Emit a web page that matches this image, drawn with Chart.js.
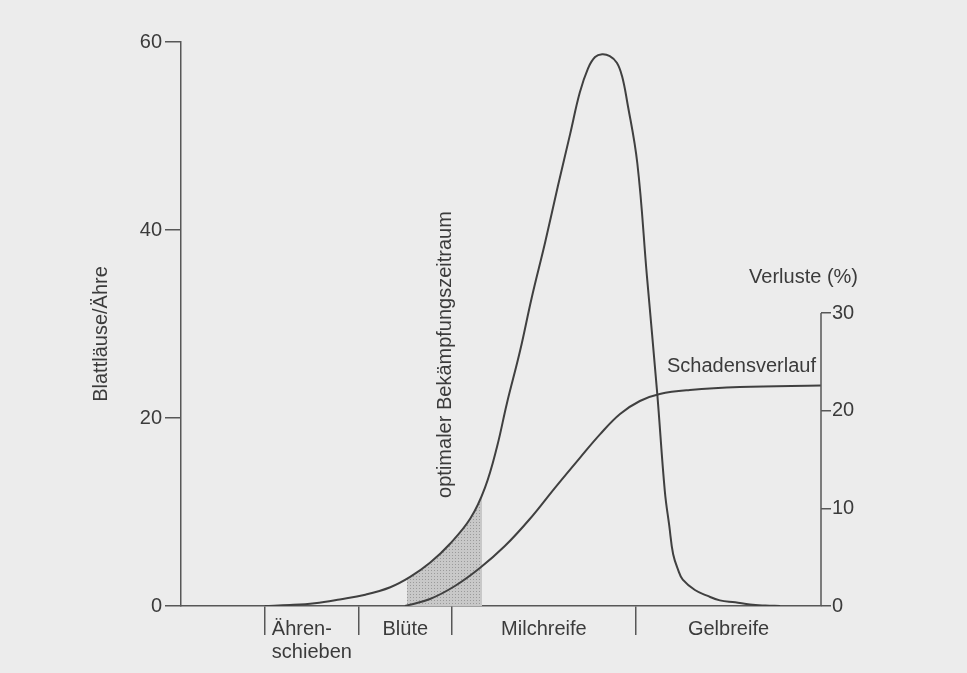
<!DOCTYPE html>
<html>
<head>
<meta charset="utf-8">
<script src="https://cdn.jsdelivr.net/npm/chart.js@4.4.1/dist/chart.umd.min.js"></script>
<style>
  html, body { margin: 0; padding: 0; background: #ececec; }
  canvas { display: block; }
</style>
</head>
<body>
<canvas id="c" width="967" height="673"></canvas>
<script>
// ---- data (time axis: 0..100 = relative season progress) ----
const aphidT     = [13.1, 17.0, 20.9, 24.8, 28.8, 32.7, 35.8, 38.9, 42.0, 45.2, 47.5, 49.4, 50.9, 53.0, 54.8, 56.9, 58.9, 60.8, 62.3, 63.6, 64.7, 65.8, 67.0, 68.1, 68.9, 69.7, 71.3, 72.8, 74.4, 75.6, 76.3, 76.9, 77.7, 78.4, 80.3, 82.2, 84.2, 86.6, 88.9, 91.3, 93.6];
const aphidCount = [0,    0.1,  0.3,  0.7,  1.2,  2.0,  3.1,  4.6,  6.6,  9.3,  12.6, 17.0, 21.5, 27.2, 32.8, 38.7, 44.7, 50.2, 54.6, 57.2, 58.4, 58.7, 58.5, 57.8, 56.4, 53.7, 47.1, 35.1, 22.7, 12.2, 8.5,  5.5,  3.8,  2.8,  1.7,  1.1,  0.6,  0.4,  0.16, 0.05, 0];

const lossT   = [35.0, 38.9, 42.8, 46.7, 50.6, 54.5, 58.4, 62.3, 65.5, 68.6, 71.7, 74.8, 79.5, 87.3, 100];
const lossPct = [0,    0.72, 2.05, 3.89, 6.14, 8.91, 12.08, 15.15, 17.6, 19.66, 20.99, 21.71, 22.12, 22.42, 22.58];

const stageNames = [["Ähren-", "schieben"], ["Blüte"], ["Milchreife"], ["Gelbreife"]];
const stageStart = [13.1, 27.8, 42.3, 71.1];
const seasonEnd  = 100;

const controlWindow = [35.3, 47.0];   // optimaler Bekämpfungszeitraum

const leftTicks  = [0, 20, 40, 60];
const rightTicks = [0, 10, 20, 30];

const yTitle      = "Blattläuse/Ähre";
const y2Title     = "Verluste (%)";
const lossLabel   = "Schadensverlauf";
const windowLabel = "optimaler Bekämpfungszeitraum";

// ---- styles ----
const FONT = "'Liberation Sans', Arial, Helvetica, sans-serif";
const FSIZE = 20;
const TEXT = "#3b3b3b";
const LINE = "#404040";
const AXIS = "#575757";

let patternCache = null;
function shadePattern(chart) {
  const xs = chart.scales.x;
  if (!xs || !chart.chartArea) return 'rgba(0,0,0,0)';
  const x0 = Math.round(xs.getPixelForValue(controlWindow[0]));
  const x1 = Math.round(xs.getPixelForValue(controlWindow[1]));
  const key = x0 + '_' + x1;
  if (patternCache && patternCache.key === key) return patternCache.pat;
  const cv = document.createElement('canvas');
  cv.width = chart.width; cv.height = chart.height;
  const c = cv.getContext('2d');
  c.fillStyle = '#c8c8c8';
  c.fillRect(x0, 0, x1 - x0, cv.height);
  c.fillStyle = '#9a9a9a';
  for (let x = x0; x < x1; x += 3) {
    for (let y = 0; y < cv.height; y += 3) c.fillRect(x, y, 1, 1);
  }
  const pat = chart.ctx.createPattern(cv, 'no-repeat');
  patternCache = { key, pat };
  return pat;
}

const annotate = {
  id: 'annotate',
  afterDraw(chart) {
    const { ctx, chartArea: a, scales } = chart;
    const xs = scales.x, ys = scales.y, y2 = scales.y2;
    ctx.save();

    // right axis line (0..30 %)
    ctx.strokeStyle = AXIS; ctx.lineWidth = 1.5;
    ctx.beginPath();
    ctx.moveTo(a.right, y2.getPixelForValue(0));
    ctx.lineTo(a.right, y2.getPixelForValue(rightTicks[rightTicks.length - 1]));
    ctx.stroke();

    ctx.fillStyle = TEXT;
    ctx.font = `${FSIZE}px ${FONT}`;

    // stage labels under the x axis
    ctx.textBaseline = 'alphabetic';
    stageNames.forEach((lines, i) => {
      const s = xs.getPixelForValue(stageStart[i]);
      const e = xs.getPixelForValue(i + 1 < stageStart.length ? stageStart[i + 1] : seasonEnd);
      const cx = (s + e) / 2;
      const bw = Math.max(...lines.map(l => ctx.measureText(l).width));
      ctx.textAlign = 'left';
      lines.forEach((l, j) => {
        const lx = lines.length > 1 ? cx - bw / 2 : cx - ctx.measureText(l).width / 2;
        ctx.fillText(l, lx, a.bottom + 29 + j * 23);
      });
    });

    // left axis title
    ctx.save();
    ctx.translate(101, (a.top + a.bottom) / 2 + 10);
    ctx.rotate(-Math.PI / 2);
    ctx.textAlign = 'center'; ctx.textBaseline = 'middle';
    ctx.fillText(yTitle, 0, 0);
    ctx.restore();

    // control window label (vertical)
    ctx.save();
    ctx.translate(xs.getPixelForValue((controlWindow[0] + controlWindow[1]) / 2) + 1, ys.getPixelForValue(11.5));
    ctx.rotate(-Math.PI / 2);
    ctx.textAlign = 'left'; ctx.textBaseline = 'middle';
    ctx.fillText(windowLabel, 0, 0);
    ctx.restore();

    // right axis title
    ctx.textAlign = 'right'; ctx.textBaseline = 'middle';
    ctx.fillText(y2Title, a.right + 37, y2.getPixelForValue(rightTicks[rightTicks.length - 1]) - 36);

    // loss curve label
    ctx.fillText(lossLabel, a.right - 5, y2.getPixelForValue(lossPct[lossPct.length - 1]) - 19);

    ctx.restore();
  }
};

new Chart(document.getElementById('c'), {
  type: 'line',
  data: {
    datasets: [
      {
        label: 'Blattläuse/Ähre',
        data: aphidT.map((t, i) => ({ x: t, y: aphidCount[i] })),
        yAxisID: 'y',
        order: 1,
        borderColor: LINE,
        borderWidth: 2,
        pointRadius: 0,
        tension: 0.4,
        fill: 'origin',
        backgroundColor: (c) => shadePattern(c.chart)
      },
      {
        label: 'Schadensverlauf',
        data: lossT.map((t, i) => ({ x: t, y: lossPct[i] })),
        yAxisID: 'y2',
        order: 0,
        borderColor: LINE,
        borderWidth: 2,
        pointRadius: 0,
        tension: 0.4,
        fill: false
      }
    ]
  },
  options: {
    responsive: false,
    animation: false,
    events: [],
    layout: { padding: { left: 0, right: 0, top: 42, bottom: 0 } },
    plugins: { legend: { display: false }, tooltip: { enabled: false } },
    scales: {
      x: {
        type: 'linear', min: 0, max: seasonEnd,
        afterBuildTicks: s => { s.ticks = stageStart.map(v => ({ value: v })); },
        afterFit: s => { s.height = 67; },
        grid: { drawOnChartArea: false, drawTicks: true, tickLength: 29, color: AXIS, lineWidth: 1.5 },
        border: { display: true, color: AXIS, width: 1.5 },
        ticks: { autoSkip: false, callback: () => '' }
      },
      y: {
        position: 'left', min: 0, max: 60,
        afterBuildTicks: s => { s.ticks = leftTicks.map(v => ({ value: v })); },
        afterFit: s => { s.width = 181; },
        grid: { drawOnChartArea: false, drawTicks: true, tickLength: 16, color: AXIS, lineWidth: 1.5 },
        border: { display: true, color: AXIS, width: 1.5 },
        ticks: { color: TEXT, font: { family: FONT, size: FSIZE }, padding: 3 }
      },
      y2: {
        position: 'right', min: 0, max: 57.75,
        afterBuildTicks: s => { s.ticks = rightTicks.map(v => ({ value: v })); },
        afterFit: s => { s.width = 146; },
        grid: { drawOnChartArea: false, drawTicks: true, tickLength: 10, color: AXIS, lineWidth: 1.5 },
        border: { display: false },
        ticks: { color: TEXT, font: { family: FONT, size: FSIZE }, padding: 1 }
      }
    }
  },
  plugins: [annotate]
});
</script>
</body>
</html>
